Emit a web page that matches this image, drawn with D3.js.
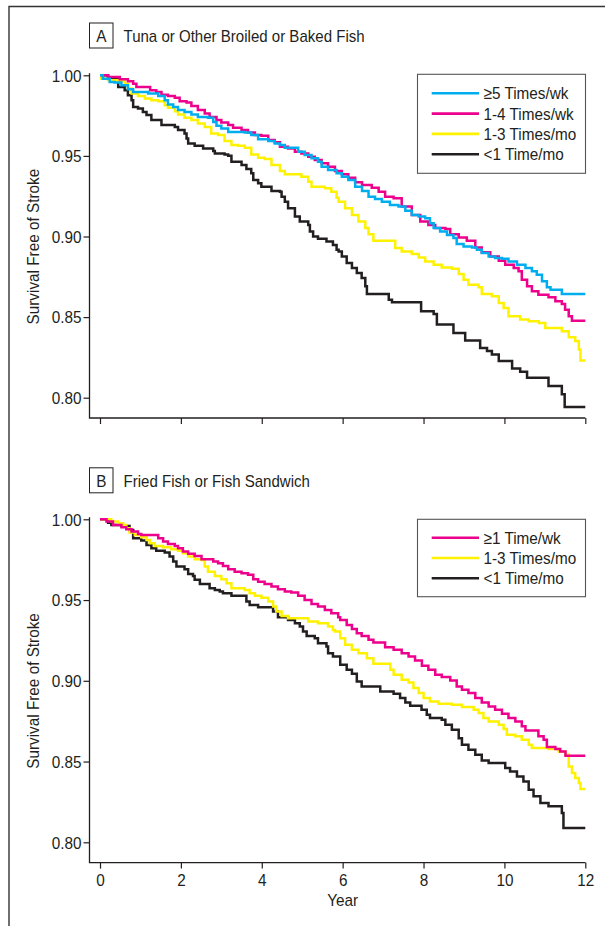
<!DOCTYPE html>
<html><head><meta charset="utf-8">
<script src="https://cdn.jsdelivr.net/npm/d3@7"></script>
<style>
html,body{margin:0;padding:0;background:#fff;}
svg{display:block;}
text{font-family:"Liberation Sans Narrow","Arial Narrow","Liberation Sans",Arial,sans-serif;fill:#231f20;}
</style></head>
<body>
<script>
// ---------------- DATA ----------------
const yearTicks = [0, 2, 4, 6, 8, 10, 12];
const survivalTicks = [0.80, 0.85, 0.90, 0.95, 1.00];

const panelATitle = "Tuna or Other Broiled or Baked Fish";
const panelBTitle = "Fried Fish or Fish Sandwich";
const panelALabels = ["\u22655 Times/wk", "1-4 Times/wk", "1-3 Times/mo", "<1 Time/mo"];
const panelBLabels = ["\u22651 Time/wk", "1-3 Times/mo", "<1 Time/mo"];

// Panel A: [year, survival]
const tuna5PerWk = [[0,1.0],[0.07,0.9979],[0.24,0.9959],[0.36,0.9955],[0.53,0.9938],[0.69,0.9913],[0.82,0.9897],[1.19,0.9887],[1.44,0.9872],[1.60,0.9845],[1.68,0.9819],[1.81,0.9804],[1.93,0.9784],[2.09,0.9773],[2.26,0.9757],[2.42,0.9742],[2.67,0.9736],[2.80,0.9711],[2.88,0.9687],[3.00,0.9670],[3.17,0.9649],[3.58,0.9645],[3.74,0.9629],[3.91,0.9604],[4.16,0.9592],[4.32,0.9577],[4.45,0.9567],[4.57,0.9551],[4.90,0.9526],[5.06,0.9505],[5.23,0.9485],[5.39,0.9464],[5.48,0.9433],[5.64,0.9412],[5.85,0.9392],[5.98,0.9371],[6.14,0.9351],[6.31,0.9309],[6.48,0.9282],[6.64,0.9247],[6.80,0.9233],[6.97,0.9216],[7.17,0.9196],[7.38,0.9186],[7.55,0.9159],[7.71,0.9134],[7.88,0.9124],[8.04,0.9113],[8.16,0.9082],[8.25,0.9052],[8.41,0.9031],[8.58,0.9010],[8.74,0.8990],[8.82,0.8953],[8.99,0.8938],[9.20,0.8932],[9.32,0.8918],[9.44,0.8897],[9.61,0.8876],[9.77,0.8866],[9.94,0.8862],[10.10,0.8845],[10.31,0.8825],[10.52,0.8804],[10.68,0.8784],[10.80,0.8763],[10.93,0.8722],[11.05,0.8685],[11.14,0.8670],[11.42,0.8643],[12.0,0.8643]];
const tuna1to4PerWk = [[0,1.0],[0.20,0.9990],[0.49,0.9975],[0.69,0.9963],[0.82,0.9948],[0.90,0.9928],[1.24,0.9907],[1.39,0.9897],[1.52,0.9880],[1.68,0.9872],[1.85,0.9860],[1.97,0.9839],[2.14,0.9831],[2.26,0.9810],[2.42,0.9784],[2.59,0.9763],[2.71,0.9742],[2.88,0.9722],[3.00,0.9707],[3.17,0.9691],[3.29,0.9674],[3.50,0.9660],[3.66,0.9645],[3.83,0.9629],[3.99,0.9625],[4.16,0.9598],[4.32,0.9584],[4.45,0.9557],[4.65,0.9546],[4.82,0.9526],[4.98,0.9515],[5.15,0.9495],[5.31,0.9474],[5.48,0.9454],[5.64,0.9433],[5.81,0.9406],[5.98,0.9386],[6.14,0.9365],[6.31,0.9336],[6.48,0.9320],[6.72,0.9303],[6.89,0.9278],[7.05,0.9247],[7.26,0.9237],[7.46,0.9186],[7.71,0.9134],[7.92,0.9093],[8.12,0.9072],[8.29,0.9052],[8.54,0.9047],[8.66,0.9014],[8.87,0.8994],[9.07,0.8973],[9.28,0.8932],[9.44,0.8903],[9.65,0.8876],[9.86,0.8849],[10.02,0.8825],[10.23,0.8804],[10.35,0.8784],[10.43,0.8732],[10.56,0.8691],[10.68,0.8660],[10.84,0.8639],[11.09,0.8623],[11.26,0.8598],[11.42,0.8581],[11.50,0.8546],[11.59,0.8505],[11.67,0.8478],[12.0,0.8478]];
const tuna1to3PerMo = [[0,1.0],[0.03,0.9979],[0.20,0.9969],[0.45,0.9963],[0.61,0.9948],[0.69,0.9918],[0.78,0.9887],[0.94,0.9872],[1.11,0.9856],[1.27,0.9845],[1.44,0.9839],[1.60,0.9814],[1.68,0.9798],[1.85,0.9777],[1.93,0.9757],[2.09,0.9736],[2.26,0.9722],[2.42,0.9701],[2.59,0.9680],[2.75,0.9639],[2.92,0.9629],[3.08,0.9592],[3.25,0.9567],[3.41,0.9563],[3.58,0.9551],[3.74,0.9509],[3.91,0.9489],[4.07,0.9480],[4.24,0.9443],[4.45,0.9406],[4.57,0.9386],[4.98,0.9371],[5.15,0.9340],[5.23,0.9309],[5.56,0.9299],[5.72,0.9278],[5.85,0.9241],[5.90,0.9216],[6.06,0.9175],[6.23,0.9134],[6.39,0.9093],[6.56,0.9052],[6.64,0.9014],[6.76,0.8973],[7.30,0.8928],[7.46,0.8907],[7.71,0.8891],[7.88,0.8870],[8.04,0.8845],[8.25,0.8825],[8.45,0.8808],[8.70,0.8800],[8.87,0.8767],[8.99,0.8732],[9.11,0.8701],[9.36,0.8685],[9.44,0.8643],[9.69,0.8629],[9.86,0.8588],[9.98,0.8557],[10.10,0.8505],[10.39,0.8485],[10.60,0.8474],[10.85,0.8464],[11.01,0.8433],[11.42,0.8412],[11.59,0.8375],[11.75,0.8351],[11.84,0.8299],[11.88,0.8231],[12.0,0.8231]];
const tunaLt1PerMo = [[0,1.0],[0.20,0.9984],[0.45,0.9928],[0.61,0.9907],[0.69,0.9876],[0.78,0.9845],[0.82,0.9804],[0.94,0.9794],[1.06,0.9773],[1.15,0.9753],[1.27,0.9722],[1.52,0.9691],[1.85,0.9680],[1.93,0.9660],[2.09,0.9639],[2.14,0.9608],[2.18,0.9577],[2.34,0.9563],[2.55,0.9546],[2.80,0.9530],[2.84,0.9515],[3.08,0.9509],[3.17,0.9501],[3.25,0.9464],[3.50,0.9443],[3.62,0.9419],[3.74,0.9392],[3.79,0.9351],[3.91,0.9330],[3.99,0.9309],[4.24,0.9282],[4.45,0.9278],[4.49,0.9247],[4.57,0.9216],[4.65,0.9175],[4.82,0.9124],[4.94,0.9093],[5.15,0.9072],[5.19,0.9031],[5.27,0.9000],[5.39,0.8986],[5.60,0.8969],[5.76,0.8948],[5.85,0.8918],[5.90,0.8907],[5.98,0.8876],[6.10,0.8835],[6.23,0.8804],[6.35,0.8773],[6.47,0.8742],[6.56,0.8691],[6.60,0.8643],[7.14,0.8608],[7.22,0.8592],[7.94,0.8536],[8.25,0.8520],[8.33,0.8454],[8.74,0.8402],[9.03,0.8355],[9.40,0.8309],[9.57,0.8289],[9.69,0.8268],[9.86,0.8227],[10.19,0.8181],[10.39,0.8161],[10.56,0.8124],[11.09,0.8072],[11.42,0.8021],[11.49,0.7942],[12.0,0.7942]];

// Panel B: [year, survival]
const fried1PerWk = [[0,1.0],[0.16,0.9986],[0.32,0.9965],[0.53,0.9951],[0.65,0.9938],[0.78,0.9924],[0.94,0.9909],[1.02,0.9903],[1.44,0.9882],[1.56,0.9862],[1.68,0.9847],[1.85,0.9835],[1.93,0.9821],[2.05,0.9800],[2.18,0.9786],[2.34,0.9773],[2.51,0.9753],[2.80,0.9738],[2.92,0.9728],[3.04,0.9711],[3.17,0.9691],[3.33,0.9676],[3.50,0.9666],[3.66,0.9656],[3.79,0.9629],[3.91,0.9614],[4.07,0.9600],[4.24,0.9584],[4.40,0.9567],[4.57,0.9553],[4.73,0.9546],[4.90,0.9526],[5.06,0.9501],[5.23,0.9476],[5.39,0.9460],[5.56,0.9439],[5.72,0.9419],[5.89,0.9394],[5.94,0.9377],[6.10,0.9346],[6.23,0.9320],[6.35,0.9295],[6.47,0.9278],[6.64,0.9254],[6.76,0.9237],[7.05,0.9208],[7.26,0.9192],[7.46,0.9171],[7.63,0.9151],[7.79,0.9126],[7.96,0.9093],[8.12,0.9068],[8.29,0.9037],[8.45,0.9023],[8.66,0.9002],[8.82,0.8965],[8.95,0.8944],[9.11,0.8924],[9.28,0.8893],[9.44,0.8866],[9.61,0.8841],[9.77,0.8821],[9.94,0.8796],[10.10,0.8769],[10.27,0.8748],[10.43,0.8718],[10.52,0.8693],[10.84,0.8656],[10.97,0.8635],[11.05,0.8590],[11.26,0.8577],[11.38,0.8563],[11.51,0.8536],[12.0,0.8536]];
const fried1to3PerMo = [[0,1.0],[0.28,0.9986],[0.45,0.9975],[0.57,0.9965],[0.65,0.9944],[0.73,0.9918],[0.86,0.9903],[1.02,0.9889],[1.15,0.9872],[1.23,0.9852],[1.35,0.9835],[1.56,0.9827],[1.76,0.9814],[1.93,0.9806],[2.05,0.9790],[2.18,0.9769],[2.34,0.9753],[2.51,0.9748],[2.59,0.9707],[2.67,0.9676],[2.84,0.9649],[3.00,0.9629],[3.13,0.9604],[3.25,0.9573],[3.58,0.9563],[3.70,0.9542],[3.83,0.9526],[3.99,0.9515],[4.16,0.9491],[4.28,0.9460],[4.36,0.9429],[4.49,0.9402],[4.65,0.9388],[5.15,0.9367],[5.39,0.9357],[5.64,0.9336],[5.76,0.9315],[5.81,0.9305],[5.94,0.9264],[6.06,0.9223],[6.23,0.9192],[6.39,0.9171],[6.60,0.9140],[6.76,0.9105],[7.18,0.9068],[7.26,0.9037],[7.46,0.9006],[7.63,0.8990],[7.75,0.8955],[7.88,0.8924],[8.00,0.8893],[8.16,0.8872],[8.37,0.8858],[8.70,0.8852],[8.95,0.8837],[9.24,0.8821],[9.36,0.8800],[9.48,0.8769],[9.61,0.8748],[9.86,0.8728],[9.98,0.8701],[10.06,0.8666],[10.27,0.8656],[10.43,0.8635],[10.60,0.8604],[10.68,0.8584],[11.09,0.8577],[11.34,0.8563],[11.51,0.8542],[11.59,0.8470],[11.67,0.8429],[11.75,0.8398],[11.84,0.8367],[11.88,0.8330],[12.0,0.8330]];
const friedLt1PerMo = [[0,1.0],[0.20,0.9979],[0.28,0.9965],[0.53,0.9959],[0.73,0.9934],[0.82,0.9882],[1.02,0.9868],[1.15,0.9841],[1.27,0.9821],[1.39,0.9806],[1.60,0.9794],[1.72,0.9769],[1.81,0.9738],[1.89,0.9707],[2.09,0.9691],[2.18,0.9662],[2.30,0.9649],[2.34,0.9625],[2.47,0.9600],[2.71,0.9573],[2.84,0.9563],[2.96,0.9553],[3.04,0.9542],[3.25,0.9526],[3.62,0.9491],[3.70,0.9470],[3.91,0.9456],[4.28,0.9429],[4.40,0.9394],[4.65,0.9377],[4.82,0.9357],[4.94,0.9336],[5.02,0.9305],[5.11,0.9278],[5.31,0.9264],[5.39,0.9233],[5.60,0.9212],[5.64,0.9171],[5.76,0.9151],[5.94,0.9099],[6.10,0.9068],[6.23,0.9043],[6.35,0.8996],[6.47,0.8965],[6.93,0.8934],[7.26,0.8920],[7.42,0.8893],[7.55,0.8866],[7.67,0.8845],[7.95,0.8821],[8.08,0.8790],[8.16,0.8769],[8.45,0.8759],[8.54,0.8728],[8.70,0.8697],[8.87,0.8645],[8.95,0.8604],[9.11,0.8573],[9.28,0.8542],[9.44,0.8507],[9.61,0.8491],[10.02,0.8460],[10.14,0.8439],[10.31,0.8408],[10.47,0.8377],[10.60,0.8326],[10.72,0.8285],[10.89,0.8243],[11.09,0.8223],[11.42,0.8181],[11.46,0.8089],[12.0,0.8089]];

const colorsA = ["#00aeef", "#ec008c", "#fff200", "#231f20"];
const colorsB = ["#ec008c", "#fff200", "#231f20"];

// ---------------- DRAW ----------------
const W = 605, H = 926;
const FS = 17;        // font size
const SQUEEZE = 0.9;  // condensed look
const svg = d3.select("body").append("svg").attr("width", W).attr("height", H);

function condense(sel, factor) {
  sel.each(function () {
    const len = this.getComputedTextLength();
    if (len > 0) d3.select(this).attr("textLength", len * factor).attr("lengthAdjust", "spacingAndGlyphs");
  });
}

// outer frame
svg.append("path").attr("d", `M9,926 L9,6.5 L605,6.5`).attr("fill", "none")
  .attr("stroke", "#333").attr("stroke-width", 1.4);

function panel(opt) {
  const x = d3.scaleLinear().domain([0, 12]).range([100, 585.3]);
  const y = d3.scaleLinear().domain([0.80, 1.00]).range([opt.y80, opt.y100]);
  const g = svg.append("g");
  const axisX = 89.5, axisY = opt.y80 + 20.3;

  // title box
  g.append("rect").attr("x", 89.5).attr("y", opt.titleY - 12.5).attr("width", 23.5).attr("height", 25)
    .attr("fill", "none").attr("stroke", "#231f20").attr("stroke-width", 1);
  g.append("text").attr("x", 101.3).attr("y", opt.titleY + 6.2).attr("text-anchor", "middle")
    .attr("font-size", FS).text(opt.letter).call(condense, SQUEEZE);
  g.append("text").attr("x", 123.5).attr("y", opt.titleY + 6.2).attr("font-size", FS)
    .text(opt.title).call(condense, 0.885);

  // axes
  const ya = g.append("g").attr("transform", `translate(${axisX},0)`)
    .call(d3.axisLeft(y).tickValues(survivalTicks).tickFormat(d3.format(".2f")).tickSize(6).tickPadding(2));
  ya.select(".domain").remove();
  ya.selectAll("line").attr("stroke", "#231f20").attr("stroke-width", 1.2);
  ya.selectAll("text").attr("font-size", FS).attr("font-family", null).attr("fill", "#231f20")
    .attr("dy", "0.34em").call(condense, SQUEEZE);
  const xa = g.append("g").attr("transform", `translate(0,${axisY})`)
    .call(d3.axisBottom(x).tickValues(yearTicks).tickSize(6).tickPadding(5)
      .tickFormat(opt.showX ? d3.format("d") : () => ""));
  xa.select(".domain").remove();
  xa.selectAll("line").attr("stroke", "#231f20").attr("stroke-width", 1.2);
  xa.selectAll("text").attr("font-size", FS).attr("font-family", null).attr("fill", "#231f20")
    .call(condense, SQUEEZE);
  g.append("path").attr("d", `M${axisX},${y(1.0) - 2} L${axisX},${axisY} L${x(12)},${axisY}`)
    .attr("fill", "none").attr("stroke", "#231f20").attr("stroke-width", 1.3);

  // y title
  g.append("text").attr("transform", `translate(39,${(y(1.0) + axisY) / 2}) rotate(-90)`)
    .attr("text-anchor", "middle").attr("font-size", FS).text("Survival Free of Stroke")
    .call(condense, SQUEEZE);
  if (opt.showX) {
    g.append("text").attr("x", x(6)).attr("y", axisY + 43).attr("text-anchor", "middle")
      .attr("font-size", FS).text("Year").call(condense, SQUEEZE);
  }

  // curves
  const line = d3.line().x(d => x(d[0])).y(d => y(d[1])).curve(d3.curveStepAfter);
  opt.order.forEach(i => {
    g.append("path").datum(opt.series[i]).attr("d", line).attr("fill", "none")
      .attr("stroke", opt.colors[i]).attr("stroke-width", 2.5).attr("stroke-linejoin", "miter");
  });

  // legend
  const lg = g.append("g");
  lg.append("rect").attr("x", 417.5).attr("y", opt.legTop).attr("width", 168).attr("height", opt.legH)
    .attr("fill", "#fff").attr("stroke", "#555").attr("stroke-width", 1.1);
  opt.labels.forEach((lab, i) => {
    const cy = opt.legTop + opt.legFirst + i * 20.3;
    lg.append("line").attr("x1", 431.7).attr("x2", 479).attr("y1", cy).attr("y2", cy)
      .attr("stroke", opt.colors[i]).attr("stroke-width", 2.6);
    lg.append("text").attr("x", 483.5).attr("y", cy + 6).attr("font-size", FS).text(lab)
      .call(condense, SQUEEZE);
  });
}

panel({letter: "A", title: panelATitle, titleY: 35.5, y100: 75.3, y80: 397.7, showX: false,
  series: [tuna5PerWk, tuna1to4PerWk, tuna1to3PerMo, tunaLt1PerMo], colors: colorsA, labels: panelALabels,
  order: [3, 2, 1, 0], legTop: 74.3, legH: 99, legFirst: 19});
panel({letter: "B", title: panelBTitle, titleY: 480.3, y100: 519.3, y80: 842.3, showX: true,
  series: [fried1PerWk, fried1to3PerMo, friedLt1PerMo], colors: colorsB, labels: panelBLabels,
  order: [2, 1, 0], legTop: 519.3, legH: 77.4, legFirst: 18.4});
</script>
</body></html>
